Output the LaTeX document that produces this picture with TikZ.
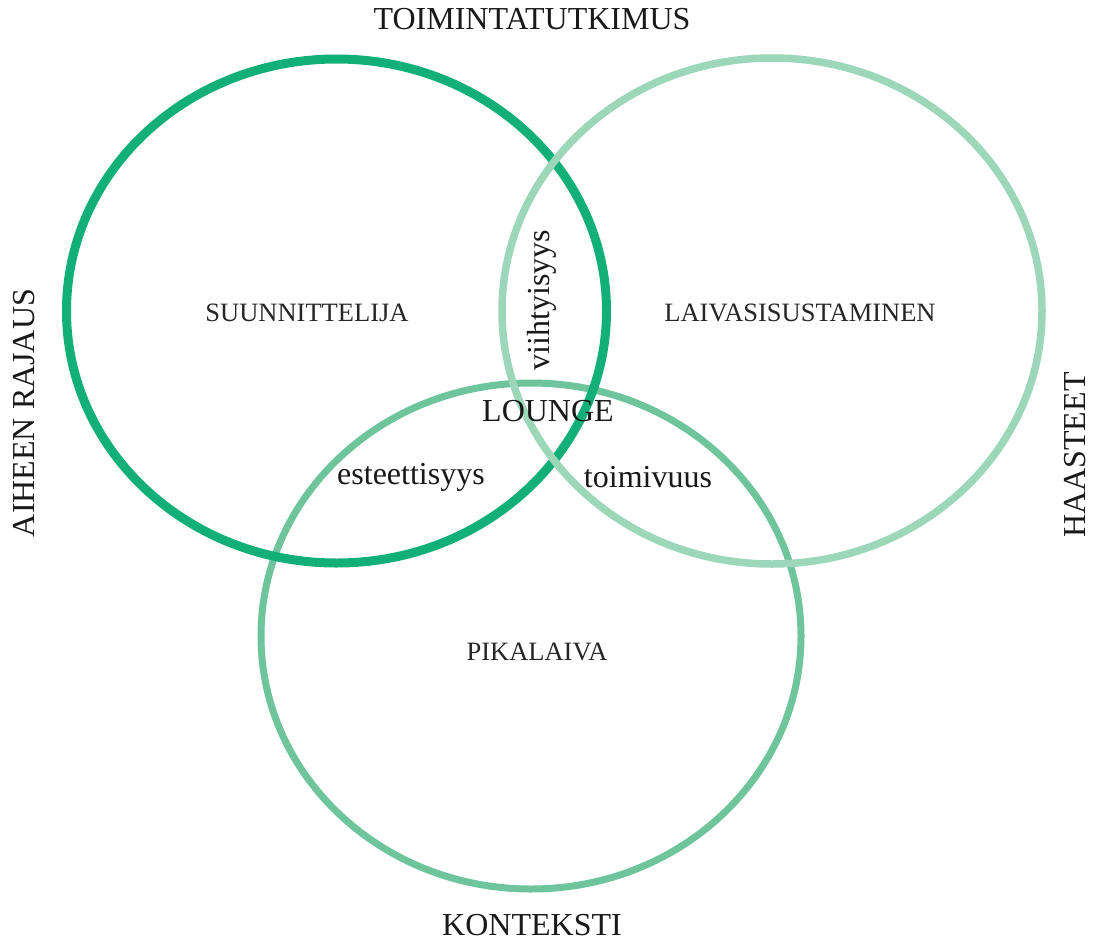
\documentclass[tikz,border=0pt]{standalone}
\usepackage{fontspec}
\setmainfont{Liberation Serif}
\definecolor{cdark}{HTML}{12AF78}
\definecolor{cmed}{HTML}{6EC59C}
\definecolor{clight}{HTML}{9DD7BA}
\tikzset{
  big/.style={inner sep=0pt, font=\fontsize{32bp}{38bp}\selectfont, text=black!90},
  small/.style={inner sep=0pt, font=\fontsize{26.5bp}{31bp}\selectfont, text=black!85},
  ring/.style={line width=#1}
}
\begin{document}
\begin{tikzpicture}[x=1bp,y=-1bp]
\useasboundingbox[fill=white] (0,0) rectangle (1095,943);
% circles
\draw[cmed, ring=7bp] (531,636) ellipse [x radius=270, y radius=253];
\draw[cdark, ring=9bp] (336.5,311) ellipse [x radius=270, y radius=252];
\draw[clight, ring=7.5bp] (772,311) ellipse [x radius=270, y radius=253];
% outer labels
\node[big] (top) at (532,19) {TOIMINTATUTKIMUS};
\node[big] (bottom) at (532,925) {KONTEKSTI};
\node[big, rotate=90] (left) at (24,413) {AIHEEN RAJAUS};
\node[big, rotate=90] (right) at (1075,455) {HAASTEET};
% set labels
\node[small] (s1) at (307,313) {SUUNNITTELIJA};
\node[small] (s2) at (800,313) {LAIVASISUSTAMINEN};
\node[small] (s3) at (537,652) {PIKALAIVA};
% intersection labels
\node[big, rotate=90] (i12) at (542,300) {viihtyisyys};
\node[big] (lounge) at (548,411) {LOUNGE};
\node[big] (i13) at (411,477) {esteettisyys};
\node[big] (i23) at (648,477) {toimivuus};
\end{tikzpicture}
\end{document}
